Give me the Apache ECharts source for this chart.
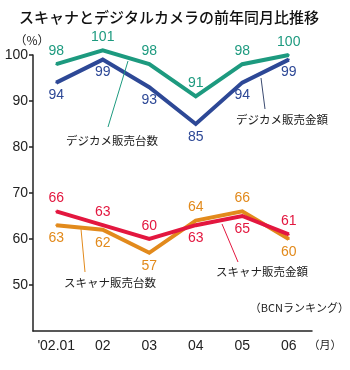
<!DOCTYPE html>
<html>
<head>
<meta charset="utf-8">
<script src="https://cdn.jsdelivr.net/npm/echarts@6/dist/echarts.min.js"></script>
<style>
  html, body { margin: 0; padding: 0; background: #fff; }
  #main { width: 350px; height: 370px; }
</style>
</head>
<body>
<div id="main"></div>
<script>
// data
var months = ["'02.01", '02', '03', '04', '05', '06'];
var cameraUnits = [98, 101, 98, 91, 98, 100];   // デジカメ販売台数
var cameraSales = [94, 99, 93, 85, 94, 99];     // デジカメ販売金額
var scannerSales = [66, 63, 60, 63, 65, 61];    // スキャナ販売金額
var scannerUnits = [63, 62, 57, 64, 66, 60];    // スキャナ販売台数
var yTicks = [50, 60, 70, 80, 90, 100];

var numFont = 'Liberation Sans, Arial, sans-serif';
var jpFont = '"Noto Sans CJK JP", sans-serif';

// where each value label sits
var labelPos = {
  cameraUnits: ['top', 'top', 'top', 'top', 'top', 'top'],
  cameraSales: ['bottom', 'bottom', 'bottom', 'bottom', 'bottom', 'bottom'],
  scannerSales: ['top', 'top', 'top', 'bottom', 'bottom', 'top'],
  scannerUnits: ['bottom', 'bottom', 'bottom', 'top', 'top', 'bottom']
};

function makeSeries(name, values, pos, color, z) {
  return {
    name: name,
    type: 'line',
    clip: false,
    z: z,
    symbol: 'circle',
    symbolSize: 2,
    itemStyle: { color: color },
    lineStyle: { color: color, width: 4, join: 'miter' },
    label: {
      show: true,
      color: color,
      fontFamily: numFont,
      fontSize: 14,
      distance: 5
    },
    data: values.map(function (v, i) {
      return { value: v, label: { position: pos[i] } };
    })
  };
}

function note(text, x, y, size, align) {
  return {
    type: 'text', x: x, y: y,
    style: { text: text, fill: '#222', font: size + 'px ' + jpFont, align: align || 'left', verticalAlign: 'middle' }
  };
}
function leader(x1, y1, x2, y2, color) {
  return { type: 'line', shape: { x1: x1, y1: y1, x2: x2, y2: y2 }, style: { stroke: color, lineWidth: 1 }, z: 5 };
}

var green = '#1d9a7f', navy = '#2d4896', red = '#e3173f', orange = '#e28a1c';

var myChart = echarts.init(document.getElementById('main'));
var option = {
  animation: false,
  title: {
    text: 'スキャナとデジタルカメラの前年同月比推移',
    left: 19,
    top: 10,
    padding: 0,
    textStyle: { fontFamily: jpFont, fontSize: 15, fontWeight: 500, color: '#111' }
  },
  grid: { left: 33, right: 38, top: 55, bottom: 39 },
  xAxis: {
    type: 'category',
    data: months,
    boundaryGap: true,
    axisLine: { lineStyle: { color: '#222', width: 1.5 } },
    axisTick: { inside: true, length: 5, lineStyle: { color: '#222', width: 1.5 } },
    axisLabel: { color: '#222', fontFamily: numFont, fontSize: 14, margin: 8, interval: 0, hideOverlap: false }
  },
  yAxis: {
    type: 'value',
    min: 40,
    max: 100,
    interval: 10,
    splitLine: { show: false },
    axisLine: { show: true, lineStyle: { color: '#222', width: 1.5 } },
    axisTick: { show: true, length: 4, customValues: yTicks, lineStyle: { color: '#222', width: 1.5 } },
    axisLabel: { color: '#222', fontFamily: numFont, fontSize: 14, margin: 5, customValues: yTicks }
  },
  series: [
    makeSeries('デジカメ販売台数', cameraUnits, labelPos.cameraUnits, green, 2),
    makeSeries('デジカメ販売金額', cameraSales, labelPos.cameraSales, navy, 2),
    makeSeries('スキャナ販売台数', scannerUnits, labelPos.scannerUnits, orange, 2),
    makeSeries('スキャナ販売金額', scannerSales, labelPos.scannerSales, red, 3)
  ],
  graphic: [
    note('（%）', 32, 40, 12, 'center'),
    note('（月）', 325, 345, 11, 'center'),
    note('（BCNランキング）', 349, 308, 11, 'right'),
    note('デジカメ販売台数', 66, 141, 11.5),
    leader(108, 127, 128, 61, green),
    note('デジカメ販売金額', 236, 120, 11.5),
    leader(265, 109, 261, 78, '#3a4a70'),
    note('スキャナ販売台数', 64, 283, 11.5),
    leader(85, 272, 81, 229, orange),
    note('スキャナ販売金額', 216, 272, 11.5),
    leader(238, 262, 222, 224, red)
  ]
};

myChart.setOption(option);
</script>
</body>
</html>
